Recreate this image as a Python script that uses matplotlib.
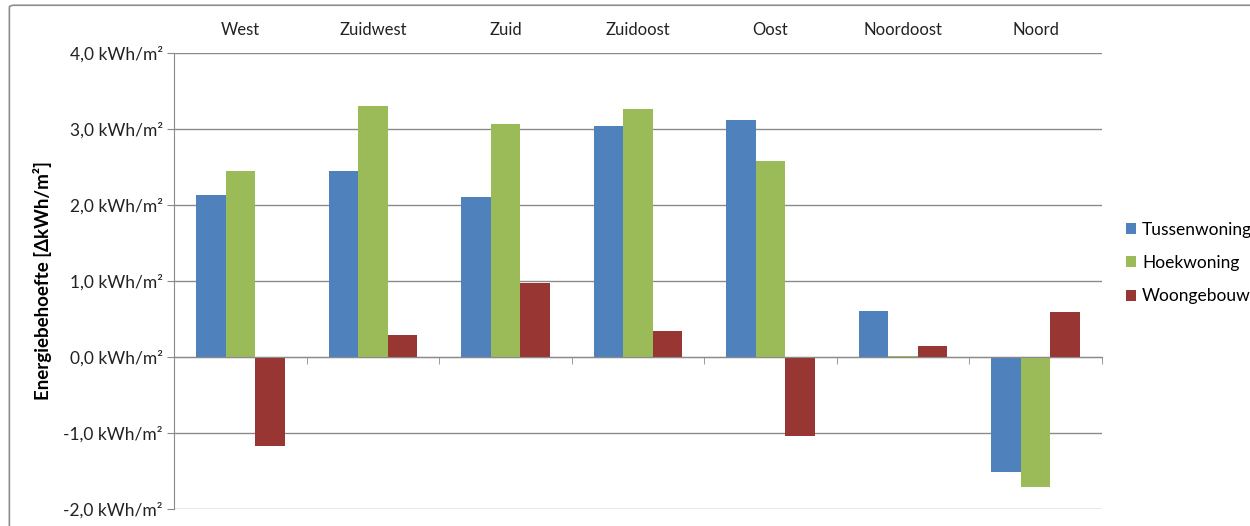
import numpy as np
import matplotlib
matplotlib.use('Agg')
import matplotlib.pyplot as plt
from matplotlib.patches import FancyBboxPatch
from matplotlib.ticker import FuncFormatter, FixedLocator

plt.rcParams['font.family'] = ['Lato', 'DejaVu Sans']

richtingen = ['West', 'Zuidwest', 'Zuid', 'Zuidoost', 'Oost', 'Noordoost', 'Noord']
tussenwoning = [2.13, 2.45, 2.11, 3.04, 3.12, 0.61, -1.51]
hoekwoning = [2.45, 3.30, 3.07, 3.26, 2.58, 0.01, -1.71]
woongebouw = [-1.17, 0.29, 0.97, 0.34, -1.04, 0.14, 0.59]

reeksen = [('Tussenwoning', tussenwoning, '#4F81BD'),
           ('Hoekwoning', hoekwoning, '#9BBB59'),
           ('Woongebouw', woongebouw, '#983634')]

fig = plt.figure(figsize=(12.5, 5.26), dpi=100)
ax = fig.add_axes([0.1392, 0.0323, 0.7424, 0.8669])

# kader rond de grafiek
fig.patches.append(FancyBboxPatch((0.0075, -0.05), 1.05, 1.04, boxstyle='round,pad=0,rounding_size=0.004',
                                  transform=fig.transFigure, fill=False, ec='#8c8c8c', lw=1.2))

x = np.arange(len(richtingen))
w = 0.223
for i, (naam, vals, kleur) in enumerate(reeksen):
    ax.bar(x + (i - 1) * w, vals, width=w, color=kleur, label=naam, zorder=3)

ax.set_xlim(-0.5, len(richtingen) - 0.5)
ax.set_ylim(-2.0, 4.0)
ax.set_yticks(np.arange(-2, 4.01, 1))
ax.yaxis.set_major_formatter(FuncFormatter(lambda v, p: f'{v:.1f}'.replace('.', ',') + ' kWh/m²'))
ax.grid(True, axis='y', color='#8a8a8a', lw=1.0, zorder=1)

for s in ['top', 'right']:
    ax.spines[s].set_visible(False)
ax.spines['left'].set_color('#8a8a8a')
ax.spines['bottom'].set_color('#8a8a8a')
ax.spines['bottom'].set_position(('data', 0))
ax.spines['bottom'].set_zorder(4)

ax.set_xticks(x)
ax.set_xticklabels(richtingen)
ax.xaxis.set_minor_locator(FixedLocator(np.arange(-0.5, len(richtingen), 1)))
ax.tick_params(axis='x', which='major', top=False, bottom=False, labeltop=True, labelbottom=False,
               pad=7, labelsize=12, labelcolor='#222222')
ax.tick_params(axis='x', which='minor', bottom=True, top=False, length=5, color='#8a8a8a', direction='out')
ax.tick_params(axis='y', length=5, color='#8a8a8a', labelsize=12.5, labelcolor='#222222', pad=3)

ax.set_ylabel('Energiebehoefte [ΔkWh/m²]', fontsize=13.5, fontweight='bold', labelpad=8)

ax.legend(loc='center left', bbox_to_anchor=(0.9005, 0.5), bbox_transform=fig.transFigure,
          frameon=False, fontsize=12.5, handlelength=0.6, handleheight=0.6, handletextpad=0.35,
          labelspacing=1.0, borderpad=0, borderaxespad=0)

fig.savefig('out.png', dpi=100, facecolor='white')
